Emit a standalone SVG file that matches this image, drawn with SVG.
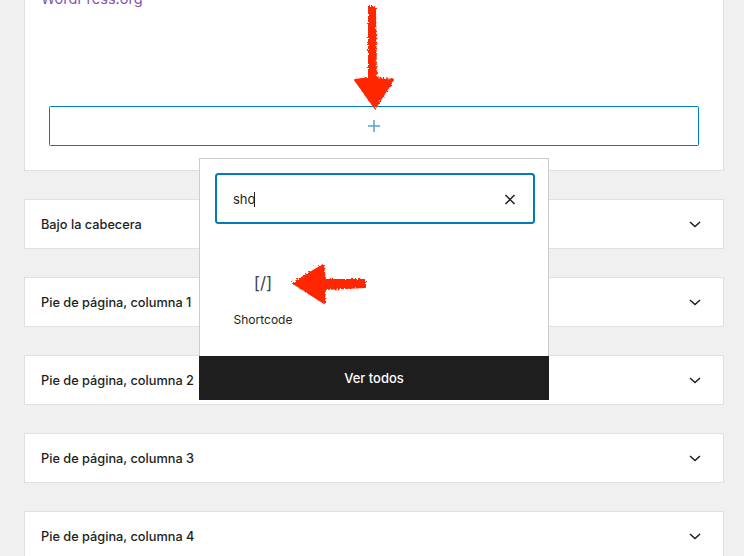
<svg xmlns="http://www.w3.org/2000/svg" width="744" height="556" viewBox="0 0 744 556">
<style>
text{font-family:Inter,"Noto Sans","Liberation Sans",sans-serif;fill:#1e1e1e}
.panel{fill:#fff;stroke:#e0e0e0;stroke-width:1}
.title{font-size:12.75px;font-weight:500}
.chev{fill:none;stroke:#1e1e1e;stroke-width:1.5}
.red{fill:#ff2600;stroke:#ff2600;stroke-width:2;stroke-linejoin:round;filter:url(#rough)}
</style>
<defs>
<filter id="rough" x="-20%" y="-20%" width="140%" height="140%">
<feTurbulence type="fractalNoise" baseFrequency="0.6" numOctaves="2" seed="4" result="n"/>
<feDisplacementMap in="SourceGraphic" in2="n" scale="4"/>
</filter>
</defs>
<rect width="744" height="556" fill="#f0f0f0"/>
<g id="main-panel">
<rect class="panel" x="24.5" y="-10" width="699" height="180.5"/>
<text x="41" y="4" font-size="14.5" style="fill:#7f54b3">WordPress.org</text>
</g>
<g id="appender">
<rect x="49.5" y="106.500" width="649" height="39" rx="1" fill="#fff" stroke="#007cba"/>
<path d="M374 120V132M368 126H380" fill="none" stroke="#5a9fce" stroke-width="1.5"/>
</g>
<g id="panel-bajo"><rect class="panel" x="24.5" y="199.500" width="699" height="49"/><text class="title" x="41" y="229">Bajo la cabecera</text><path class="chev" d="M690 222l5 4.500 5-4.500"/></g>
<g id="panel-col1"><rect class="panel" x="24.500" y="277.500" width="699" height="49"/><text class="title" x="41" y="307">Pie de página, columna 1</text><path class="chev" d="M690 300l5 4.500 5-4.500"/></g>
<g id="panel-col2"><rect class="panel" x="24.500" y="355.500" width="699" height="49"/><text class="title" x="41" y="385">Pie de página, columna 2</text><path class="chev" d="M690 378l5 4.500 5-4.500"/></g>
<g id="panel-col3"><rect class="panel" x="24.500" y="433.500" width="699" height="49"/><text class="title" x="41" y="463">Pie de página, columna 3</text><path class="chev" d="M690 456l5 4.500 5-4.500"/></g>
<g id="panel-col4"><rect class="panel" x="24.500" y="511.500" width="699" height="60"/><text class="title" x="41" y="541">Pie de página, columna 4</text><path class="chev" d="M690 534l5 4.500 5-4.500"/></g>
<g id="inserter">
<rect x="199.500" y="158.500" width="349" height="241" fill="#fff" stroke="#ccc"/>
<rect x="216" y="174" width="318" height="49" rx="2.500" fill="#fff" stroke="#007cba" stroke-width="2"/>
<text x="233" y="204" font-size="13">sho</text>
<path d="M254.500 192V207" stroke="#1e1e1e" stroke-width="1"/>
<path d="M505.500 195L514.500 204M514.500 195L505.500 204" fill="none" stroke="#1e1e1e" stroke-width="1.500"/>
<text x="263" y="289" font-size="17" text-anchor="middle" style="fill:#3c434a">[/]</text>
<text x="263" y="324" font-size="12" text-anchor="middle">Shortcode</text>
<rect x="199" y="356" width="350" height="44" fill="#1e1e1e"/>
<text x="374" y="383" font-size="13" font-weight="500" text-anchor="middle" style="fill:#fff">Ver todos</text>
</g>
<g id="arrows">
<path class="red" d="M369 7H375L376 78L393 80L375 108L355 80L369 78Z"/>
<path class="red" d="M365 280V287L325 289L324 303L293 283L323 265L325 280Z"/>
</g>
</svg>
